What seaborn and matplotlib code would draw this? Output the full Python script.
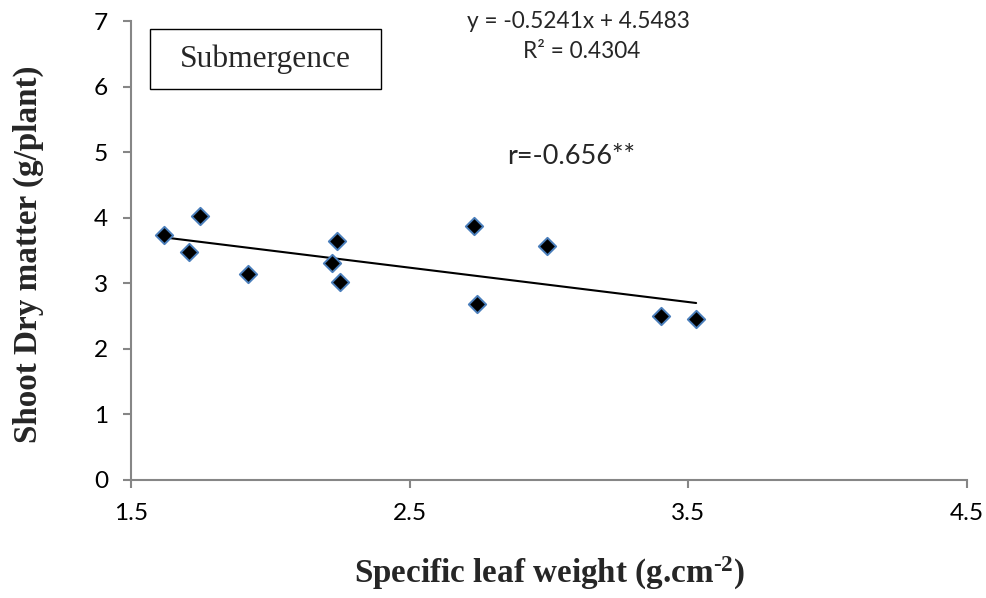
import numpy as np
import pandas as pd
import matplotlib
matplotlib.use("Agg")
import matplotlib.pyplot as plt
import seaborn as sns
from matplotlib.patches import Rectangle

# ---- data ----
slw = [1.618, 1.749, 1.709, 1.919, 2.239, 2.220, 2.249, 2.730, 2.740, 2.994, 3.403, 3.528]
sdm = [3.735, 4.020, 3.470, 3.140, 3.640, 3.310, 3.020, 3.870, 2.690, 3.570, 2.500, 2.450]
slope = -0.5241
intercept = 4.5483
r_squared = 0.4304
r_value = -0.656
x_ticks = [1.5, 2.5, 3.5, 4.5]
y_ticks = [0, 1, 2, 3, 4, 5, 6, 7]
panel_label = "Submergence"
x_title = "Specific leaf weight (g.cm$^{\u2010 2}$)"
y_title = "Shoot Dry matter (g/plant)"

sns.set_theme(style="white")
plt.rcParams["font.family"] = ["Lato", "DejaVu Sans"]
plt.rcParams["mathtext.default"] = "regular"

W, H = 986, 598
fig = plt.figure(figsize=(W / 100, H / 100), dpi=100)
L, R, T, B = 131, 967, 21, 480
ax = fig.add_axes([L / W, 1 - B / H, (R - L) / W, (B - T) / H])
renderer = fig.canvas.get_renderer()


def fit(s, target, **kw):
    t = fig.text(0, 0, s, fontsize=20, **kw)
    w = t.get_window_extent(renderer=renderer).width
    t.remove()
    return 20 * target / w


def fx(px):
    return px / W


def fy(py):
    return 1 - py / H


df = pd.DataFrame({"slw": slw, "sdm": sdm})
xs = np.array([df.slw.min(), df.slw.max()])
sns.lineplot(x=xs, y=slope * xs + intercept, color="black", linewidth=1.5,
             ax=ax, zorder=2)
sns.scatterplot(data=df, x="slw", y="sdm", marker="D", s=78, color="black",
                edgecolor="#4a7ebb", linewidth=1.4, ax=ax, zorder=3, clip_on=False)

ax.set_xlim(1.5, 4.5)
ax.set_ylim(0, 7)
ax.set_xticks(x_ticks)
ax.set_xticklabels([f"{v:.1f}" for v in x_ticks])
ax.set_yticks(y_ticks)
ax.set_yticklabels([str(v) for v in y_ticks])

tick_fs = fit("1.5", 31) * 1.1
ax.tick_params(axis="both", which="major", bottom=True, left=True,
               direction="out", length=5.5, width=1.5, color="#868686",
               labelcolor="black", labelsize=tick_fs)
ax.tick_params(axis="x", pad=11)
ax.tick_params(axis="y", pad=11)
for side in ["top", "right"]:
    ax.spines[side].set_visible(False)
for side in ["left", "bottom"]:
    ax.spines[side].set_color("#868686")
    ax.spines[side].set_linewidth(1.5)
ax.grid(False)

# axis titles
lab_fs = fit(y_title, 378, family="Liberation Serif", weight="bold")
ax.set_xlabel(x_title, family="Liberation Serif", weight="bold", fontsize=lab_fs)
ax.set_ylabel(y_title, family="Liberation Serif", weight="bold", fontsize=lab_fs)
ax.xaxis.label.set_va("center")
ax.yaxis.label.set_va("center")
ax.xaxis.set_label_coords((549 - L) / (R - L), (B - 573) / (B - T))
ax.yaxis.set_label_coords((28 - L) / (R - L), (B - 254) / (B - T))

# trendline equation
eq = f"y = {slope:.4f}x + {intercept:.4f}"
r2 = f"R\u00b2 = {r_squared:.4f}"
eq_fs = fit(eq, 223)
fig.text(fx(578), fy(22), eq, fontsize=eq_fs, ha="center", va="center")
fig.text(fx(582), fy(52), r2, fontsize=eq_fs, ha="center", va="center")

rtxt = f"r={r_value:.3f}**"
fig.text(fx(571), fy(157), rtxt, fontsize=fit(rtxt, 128), ha="center", va="center")

# panel label box
fig.add_artist(Rectangle((fx(150), fy(89)), fx(381) - fx(150), fy(29) - fy(89),
                         transform=fig.transFigure, fill=False,
                         edgecolor="black", linewidth=1.0))
sub_fs = fit(panel_label, 171, family="Liberation Serif")
fig.text(fx(265.5), fy(59), panel_label, family="Liberation Serif",
         fontsize=sub_fs, ha="center", va="center")

fig.savefig("out.png", dpi=100)
